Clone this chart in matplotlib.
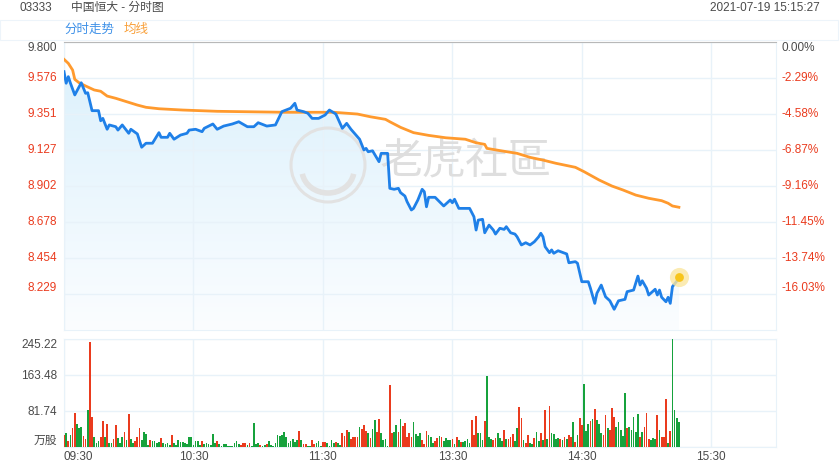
import numpy as np
import matplotlib
matplotlib.use('Agg')
import matplotlib.pyplot as plt
from matplotlib.patches import Polygon, Ellipse, Arc, Rectangle
from matplotlib.colors import LinearSegmentedColormap

plt.rcParams['font.family'] = ['Liberation Sans', 'Noto Sans CJK SC', 'DejaVu Sans']

# minutes since 09:30 (lunch break removed: 12:00 -> 13:00 joined)
price_min = [0, 1, 2, 3, 5, 7, 8, 10, 11, 13, 16, 17, 18, 20, 21, 24, 25, 27, 30, 31,
             34, 36, 38, 41, 44, 45, 48, 49, 51, 54, 57, 58, 61, 64, 65, 69, 71, 74, 78, 81,
             85, 88, 90, 94, 98, 101, 105, 107, 108, 111, 113, 115, 118, 121, 123, 126, 129, 131, 133, 136,
             137, 139, 140, 141, 143, 146, 147, 150, 151, 153, 155, 156, 158, 159, 161, 162, 164, 166, 167, 168,
             169, 172, 174, 176, 179, 180, 181, 183, 188, 190, 191, 192, 194, 195, 197, 199, 200, 202, 204, 205,
             207, 209, 210, 212, 214, 216, 218, 220, 221, 222, 223, 225, 226, 227, 229, 233, 234, 237, 238, 240,
             243, 244, 246, 247, 249, 251, 253, 255, 257, 260, 261, 264, 266, 267, 268, 270, 271, 274, 275, 276,
             277, 279, 280, 281, 282, 285]
price = [9.615, 9.543, 9.584, 9.543, 9.470, 9.521, 9.546, 9.480, 9.484, 9.372, 9.372, 9.309, 9.324, 9.256, 9.283, 9.272, 9.251, 9.283, 9.231, 9.256,
         9.227, 9.144, 9.169, 9.169, 9.235, 9.206, 9.206, 9.231, 9.194, 9.220, 9.231, 9.251, 9.256, 9.241, 9.262, 9.289, 9.256, 9.276, 9.289, 9.303,
         9.272, 9.272, 9.297, 9.276, 9.283, 9.366, 9.387, 9.418, 9.376, 9.366, 9.356, 9.324, 9.324, 9.345, 9.376, 9.351, 9.262, 9.293, 9.256, 9.210,
         9.194, 9.127, 9.137, 9.116, 9.122, 9.054, 9.106, 9.106, 8.888, 8.882, 8.888, 8.861, 8.840, 8.805, 8.753, 8.763, 8.815, 8.882, 8.867, 8.773,
         8.832, 8.832, 8.805, 8.778, 8.815, 8.798, 8.820, 8.763, 8.763, 8.711, 8.628, 8.690, 8.695, 8.611, 8.659, 8.628, 8.603, 8.639, 8.632, 8.649,
         8.611, 8.603, 8.586, 8.535, 8.549, 8.535, 8.555, 8.586, 8.608, 8.586, 8.524, 8.487, 8.504, 8.483, 8.499, 8.479, 8.424, 8.431, 8.421, 8.306,
         8.306, 8.265, 8.171, 8.234, 8.285, 8.212, 8.187, 8.134, 8.187, 8.196, 8.244, 8.254, 8.341, 8.285, 8.312, 8.265, 8.223, 8.259, 8.223, 8.254,
         8.209, 8.181, 8.209, 8.171, 8.275, 8.327]

avg_min = [0, 2, 4, 5, 7, 10, 14, 17, 20, 24, 29, 34, 38, 44, 55, 71, 102, 125, 136, 142,
           149, 151, 156, 162, 169, 177, 186, 191, 195, 196, 203, 210, 216, 222, 228, 237, 241, 248, 254, 259,
           265, 271, 277, 280, 282, 285]
avg_price = [9.692, 9.667, 9.625, 9.567, 9.546, 9.526, 9.501, 9.493, 9.463, 9.449, 9.428, 9.407, 9.393, 9.384, 9.376, 9.368, 9.362, 9.362, 9.351, 9.334,
             9.318, 9.303, 9.268, 9.235, 9.218, 9.203, 9.194, 9.172, 9.162, 9.137, 9.121, 9.106, 9.081, 9.064, 9.044, 9.019, 8.992, 8.940, 8.902, 8.878,
             8.846, 8.826, 8.811, 8.795, 8.778, 8.770]

# volume per minute (万股), one bar per minute from 09:30
volume = [25, 30, 12, 25, 41, 75, 50, 41, 44, 24, 18, 84, 238, 66, 22, 7, 12, 21, 59, 21,
          50, 9, 9, 16, 48, 20, 7, 22, 34, 15, 73, 18, 9, 12, 21, 43, 15, 32, 28, 3,
          15, 13, 12, 7, 10, 20, 7, 5, 9, 3, 25, 9, 3, 15, 11, 11, 9, 6, 22, 21,
          3, 12, 12, 3, 12, 6, 9, 5, 3, 28, 7, 13, 5, 1, 6, 6, 1, 1, 2, 9,
          13, 5, 3, 7, 9, 3, 8, 2, 53, 6, 7, 3, 1, 3, 6, 12, 3, 1, 7, 25,
          24, 25, 34, 21, 7, 12, 18, 11, 14, 35, 15, 6, 5, 1, 1, 15, 6, 9, 12, 1,
          10, 10, 7, 2, 15, 9, 10, 7, 4, 30, 24, 37, 34, 18, 21, 21, 21, 45, 40, 49,
          36, 31, 20, 39, 60, 34, 63, 30, 15, 17, 1, 140, 31, 34, 49, 34, 63, 47, 54, 21,
          30, 21, 56, 28, 24, 30, 15, 5, 35, 25, 22, 7, 12, 20, 24, 22, 12, 20, 15, 15,
          17, 5, 21, 15, 10, 10, 12, 16, 9, 60, 25, 70, 30, 31, 15, 59, 160, 22, 18, 15,
          20, 30, 20, 12, 37, 17, 18, 21, 28, 12, 43, 90, 64, 15, 7, 25, 7, 5, 20, 33,
          12, 30, 15, 83, 18, 93, 30, 28, 18, 20, 18, 15, 21, 18, 25, 21, 56, 11, 26, 64,
          49, 141, 35, 51, 59, 62, 86, 60, 50, 30, 26, 72, 43, 37, 87, 68, 45, 56, 37, 24,
          121, 41, 45, 37, 66, 34, 74, 22, 33, 45, 76, 18, 15, 19, 16, 72, 37, 21, 21, 108,
          9, 35, 246, 83, 65, 56]
# r = up minute (red), g = down minute (green); rows match volume rows
vol_side = list("rgrgrrgggrrgrrgggrrg"
                "rggrrgggrgrggrrrgggg"
                "rggggrggggrggggggggg"
                "ggggrggggggrgggggggg"
                "ggrrrgrggggrggrggggg"
                "gggggggggrgrrggrrggg"
                "rrggggrggrrrgrrrrgrr"
                "rgrggrrggggrrggrgrrr"
                "rrggggrrrgggrrgrgggg"
                "rgrgrggggrrrgggrgggr"
                "rgggrgrrrggrrgrrggrg"
                "grgrgrggggrgrgrrgrgr"
                "rgggrgrgggrrgrrrgggg"
                "grgggggrgrrrgggrgrrr"
                "grgggg")

price_ticks = ['9.800', '9.576', '9.351', '9.127', '8.902', '8.678', '8.454', '8.229']
pct_ticks = ['0.00%', '-2.29%', '-4.58%', '-6.87%', '-9.16%', '-11.45%', '-13.74%', '-16.03%']
vol_ticks = [0, 81.74, 163.48, 245.22]
vol_labels = ['万股', '81.74', '163.48', '245.22']
time_ticks = [0, 60, 120, 180, 240, 300]
time_labels = ['09:30', '10:30', '11:30', '13:30', '14:30', '15:30']

BLUE = '#1f80e8'
ORANGE = '#ff9a2e'
RED = '#ea3b1e'
GREEN = '#16a23c'
GRAY = '#4a4a4a'
GRID = '#e8f2f9'

W, H = 840, 470
fig = plt.figure(figsize=(8.4, 4.7), dpi=100)


def box(x0, y0, x1, y1):
    return [x0 / W, 1 - y1 / H, (x1 - x0) / W, (y1 - y0) / H]


# header
fig.text(20 / W, 1 - 8 / H, '03333', fontsize=8.5, color=GRAY, va='center')
fig.text(71 / W, 1 - 8 / H, '中国恒大 - 分时图', fontsize=8.5, color=GRAY, va='center')
fig.text(820 / W, 1 - 8 / H, '2021-07-19 15:15:27', fontsize=8.5, color=GRAY, va='center', ha='right')
fig.patches.append(Rectangle((0, 1 - 40 / H), 838 / W, 20 / H, transform=fig.transFigure,
                             fill=False, ec='#edf4fa', lw=0.8))
fig.text(64 / W, 1 - 30 / H, '分时走势', fontsize=9, color='#3e91e8', va='center')
fig.text(124 / W, 1 - 30 / H, '均线', fontsize=9, color='#f9a03a', va='center')

# price panel
ax = fig.add_axes(box(64, 42, 776, 330))
yvals = [float(t) for t in price_ticks]
yhi = yvals[0]
ylo = yvals[-1] - (yvals[0] - yvals[1])

verts = list(zip(price_min, price)) + [(price_min[-1], ylo), (price_min[0], ylo)]
poly = Polygon(verts, closed=True, fc='none', ec='none')
ax.add_patch(poly)
cmap = LinearSegmentedColormap.from_list('fill', ['#fbfdff', '#daf0fc'])
im = ax.imshow(np.linspace(0, 1, 256).reshape(-1, 1), extent=[0, 330, ylo, yhi],
               origin='lower', aspect='auto', cmap=cmap, zorder=1)
im.set_clip_path(poly)

ax.plot(avg_min, avg_price, color=ORANGE, lw=2.0, zorder=4, solid_joinstyle='round')
ax.plot(price_min, price, color=BLUE, lw=2.0, zorder=5, solid_joinstyle='round')
ax.scatter([price_min[-1]], [price[-1] + 0.01], s=190, color='#fbe7a0', alpha=0.8, zorder=6, lw=0)
ax.scatter([price_min[-1]], [price[-1] + 0.01], s=40, color='#f7c51c', zorder=7, lw=0)

# watermark
ax.text(466 / W, 1 - 163 / H, '老虎社區', transform=fig.transFigure, fontsize=31,
        color='#dedede', ha='center', va='center', family=['Noto Sans CJK TC'], zorder=2)
ax.add_artist(Ellipse((328 / W, 1 - 165 / H), 74 / W, 74 / H, transform=fig.transFigure,
                      fill=False, ec='#e2e2e2', lw=2.2, zorder=2, clip_on=False))
ax.add_artist(Arc((328 / W, 1 - 170 / H), 52 / W, 46 / H, theta1=195, theta2=345,
                  transform=fig.transFigure, ec='#e2e2e2', lw=4, zorder=2, clip_on=False))

ax.set_xlim(0, 330)
ax.set_ylim(ylo, yhi)
ax.set_xticks(time_ticks)
ax.set_xticklabels([])
ax.set_yticks(yvals)
ax.set_yticklabels(price_ticks)
ax.tick_params(length=0, labelsize=8.5, pad=5, bottom=False)
ax.grid(True, color=GRID, lw=1, zorder=0)
for i, t in enumerate(ax.get_yticklabels()):
    t.set_color(GRAY if i == 0 else RED)
    t.set_va('top' if i == 0 else ('bottom' if i == len(price_ticks) - 1 else 'center'))
for s in ['left', 'right', 'bottom']:
    ax.spines[s].set_color(GRID)
ax.spines['top'].set_color('#b8b8b8')

ax2 = ax.twinx()
ax2.set_ylim(ylo, yhi)
ax2.set_yticks(yvals)
ax2.set_yticklabels(pct_ticks)
ax2.tick_params(length=0, labelsize=8.5, pad=4)
for i, t in enumerate(ax2.get_yticklabels()):
    t.set_color(GRAY if i == 0 else RED)
    t.set_va('top' if i == 0 else ('bottom' if i == len(pct_ticks) - 1 else 'center'))
for s in ax2.spines.values():
    s.set_visible(False)

# volume panel
axv = fig.add_axes(box(64, 338.5, 776, 446.5))
idx = np.arange(len(volume))
cols = [RED if c == 'r' else GREEN for c in vol_side[:len(volume)]]
axv.bar(idx, volume, width=0.8, color=cols, zorder=3)
axv.set_xlim(0, 330)
axv.set_ylim(0, vol_ticks[-1])
axv.set_yticks(vol_ticks)
axv.set_yticklabels(vol_labels)
axv.set_xticks(time_ticks)
axv.set_xticklabels(time_labels)
axv.tick_params(length=0, labelsize=8.5, labelcolor=GRAY, pad=5)
axv.tick_params(axis='x', pad=3)
axv.get_xticklabels()[0].set_ha('left')
yl = axv.get_yticklabels()
yl[0].set_va('bottom')
yl[-1].set_va('top')
axv.grid(True, color=GRID, lw=1, zorder=0)
for s in axv.spines.values():
    s.set_color(GRID)

fig.savefig('out.png', dpi=100)
